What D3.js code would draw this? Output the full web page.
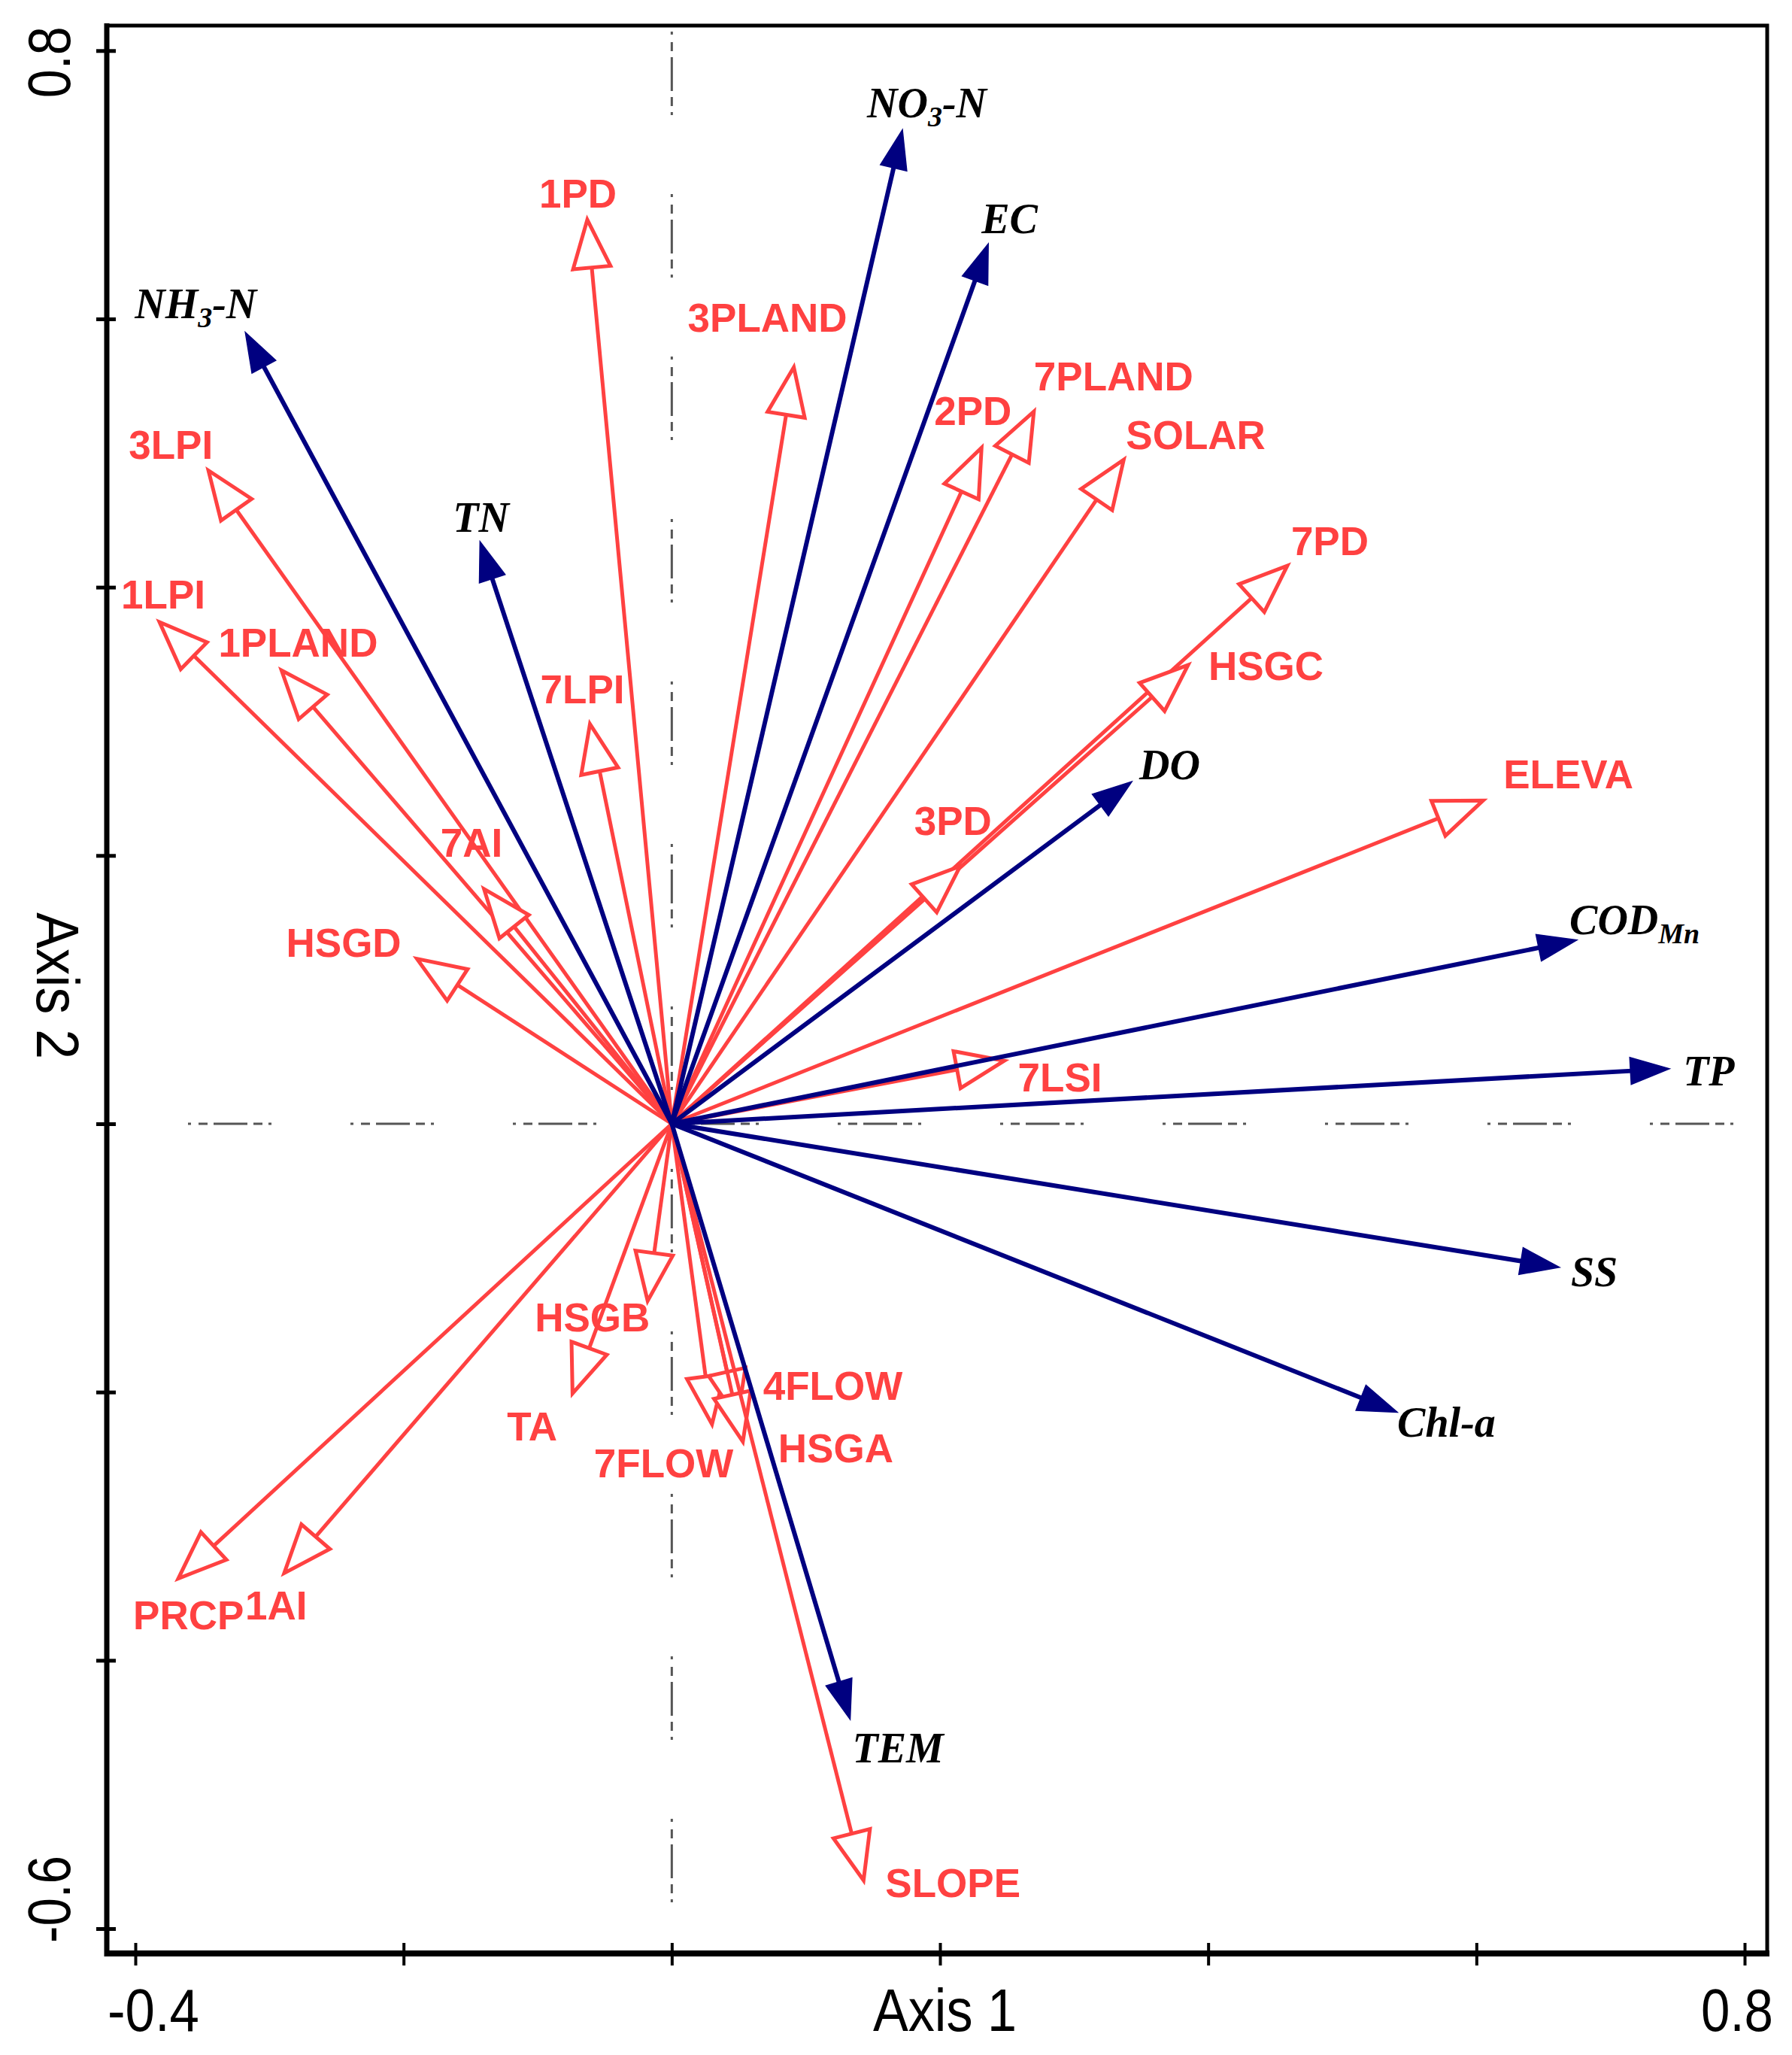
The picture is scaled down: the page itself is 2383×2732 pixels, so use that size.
<!DOCTYPE html>
<html>
<head>
<meta charset="utf-8">
<script src="https://cdn.jsdelivr.net/npm/d3@7"></script>
<style>
  html, body { margin: 0; padding: 0; background: #ffffff; }
  svg { display: block; }
</style>
</head>
<body>
<div id="chart"></div>
<script>
// ---------------- DATA ----------------
// Response variables (water quality) – filled navy arrows
const envNames = ["NH3-N", "TN", "NO3-N", "EC", "DO", "CODMn", "TP", "SS", "Chl-a", "TEM"];
const envAxis1 = [-0.318, -0.143, 0.172, 0.236, 0.343, 0.675, 0.744, 0.662, 0.541, 0.133];
const envAxis2 = [0.590, 0.434, 0.741, 0.656, 0.255, 0.137, 0.041, -0.107, -0.215, -0.444];

// Explanatory variables (landscape / climate) – open red arrows
const expNames = ["1PD", "3LPI", "1LPI", "1PLAND", "7LPI", "7AI", "HSGD", "3PLAND", "2PD", "7PLAND",
                  "SOLAR", "7PD", "HSGC", "3PD", "7LSI", "ELEVA", "HSGB", "TA", "7FLOW", "4FLOW",
                  "HSGA", "SLOPE", "PRCP", "1AI"];
const expAxis1 = [-0.063, -0.3455, -0.382, -0.291, -0.061, -0.140, -0.190, 0.091, 0.231, 0.270,
                  0.337, 0.459, 0.385, 0.215, 0.248, 0.605, -0.018, -0.074, 0.030, 0.049,
                  0.053, 0.143, -0.368, -0.289];
const expAxis2 = [0.674, 0.487, 0.374, 0.338, 0.298, 0.175, 0.123, 0.564, 0.504, 0.531,
                  0.495, 0.416, 0.342, 0.192, 0.047, 0.241, -0.132, -0.201, -0.224, -0.220,
                  -0.237, -0.564, -0.339, -0.335];

const xTicks = [-0.4, -0.2, 0, 0.2, 0.4, 0.6, 0.8];
const yTicks = [0.8, 0.6, 0.4, 0.2, 0, -0.2, -0.4, -0.6];
const xTickLabels = ["-0.4", "0.8"];
const yTickLabels = ["0.8", "-0.6"];
const xTitle = "Axis 1";
const yTitle = "Axis 2";

// ---------------- LAYOUT (pixel offsets of labels from arrow tips) ----------------
const envLabelOffset = {
  "NH3-N": [-147, -19], "TN": [-36, -13], "NO3-N": [-47, -17], "EC": [-9, -14], "DO": [10, -3],
  "CODMn": [-10, -8], "TP": [18, 22], "SS": [15, 25], "Chl-a": [0, 33], "TEM": [3, 57]
};
const expLabelOffset = {
  "1PD": [-64, -16], "3LPI": [-106, -15], "1LPI": [-51, -18], "1PLAND": [-84, -18], "7LPI": [-66, -28],
  "7AI": [-58, -43], "HSGD": [-174, -3], "3PLAND": [-141, -47], "2PD": [-63, -30], "7PLAND": [0, -28],
  "SOLAR": [3, -14], "7PD": [5, -14], "HSGC": [27, 20], "3PD": [-61, -42], "7LSI": [18, 41],
  "ELEVA": [27, -16], "HSGB": [-150, 41], "TA": [-87, 63], "7FLOW": [-157, 71], "4FLOW": [34, -25],
  "HSGA": [47, 27], "SLOPE": [29, 22], "PRCP": [-60, 67], "1AI": [-52, 62]
};

const W = 2383, H = 2732;
const box = { left: 142, right: 2350, top: 34, bottom: 2597 };
const RED = "#ff4141";
const NAVY = "#000080";

const x = d3.scaleLinear().domain([-0.4, 0.8]).range([180, 2320]);
const y = d3.scaleLinear().domain([-0.6, 0.8]).range([2564, 67.3]);

const svg = d3.select("#chart").append("svg")
  .attr("width", W).attr("height", H)
  .attr("viewBox", `0 0 ${W} ${H}`);

svg.append("rect").attr("width", W).attr("height", H).attr("fill", "#fff");

// ---------------- zero reference lines (dash-dot) ----------------
const dashPattern = "4,10,12,8,45,8,12,8,4,105";
svg.append("line")
  .attr("x1", 250).attr("x2", box.right - 4)
  .attr("y1", y(0)).attr("y2", y(0))
  .attr("stroke", "#555").attr("stroke-width", 3)
  .attr("stroke-dasharray", dashPattern);
svg.append("line")
  .attr("x1", x(0)).attr("x2", x(0))
  .attr("y1", box.top + 8).attr("y2", box.bottom - 4)
  .attr("stroke", "#555").attr("stroke-width", 3)
  .attr("stroke-dasharray", dashPattern);

// ---------------- frame & axes ----------------
svg.append("rect")
  .attr("x", box.left).attr("y", box.top)
  .attr("width", box.right - box.left).attr("height", box.bottom - box.top)
  .attr("fill", "none").attr("stroke", "#000").attr("stroke-width", 5);
svg.append("line").attr("x1", box.left).attr("x2", box.left)
  .attr("y1", box.top - 3).attr("y2", box.bottom + 4)
  .attr("stroke", "#000").attr("stroke-width", 7);
svg.append("line").attr("x1", box.left - 3).attr("x2", box.right + 3)
  .attr("y1", box.bottom).attr("y2", box.bottom)
  .attr("stroke", "#000").attr("stroke-width", 8);

const xAxis = d3.axisBottom(x).tickValues(xTicks).tickSize(30).tickFormat("");
const gx = svg.append("g").attr("transform", `translate(0,${box.bottom - 14})`).call(xAxis);
gx.select(".domain").remove();
gx.selectAll(".tick line").attr("stroke", "#000").attr("stroke-width", 4);

const yAxis = d3.axisLeft(y).tickValues(yTicks).tickSize(26).tickFormat("");
const gy = svg.append("g").attr("transform", `translate(${box.left + 12},0)`).call(yAxis);
gy.select(".domain").remove();
gy.selectAll(".tick line").attr("stroke", "#000").attr("stroke-width", 5);

// tick labels & titles
const axisFont = "'Liberation Sans', Arial, sans-serif";
svg.append("text").attr("x", 143).attr("y", 2700)
  .attr("font-family", axisFont).attr("font-size", 80)
  .attr("textLength", 122).attr("lengthAdjust", "spacingAndGlyphs")
  .text(xTickLabels[0]);
svg.append("text").attr("x", 2358).attr("y", 2700).attr("text-anchor", "end")
  .attr("font-family", axisFont).attr("font-size", 80)
  .attr("textLength", 96).attr("lengthAdjust", "spacingAndGlyphs")
  .text(xTickLabels[1]);
svg.append("text").attr("x", 1161).attr("y", 2700)
  .attr("font-family", axisFont).attr("font-size", 80)
  .attr("textLength", 191).attr("lengthAdjust", "spacingAndGlyphs")
  .text(xTitle);

svg.append("text").attr("transform", `translate(93,${y(0.8) + 63}) rotate(-90)`)
  .attr("font-family", axisFont).attr("font-size", 80)
  .attr("textLength", 95).attr("lengthAdjust", "spacingAndGlyphs")
  .text(yTickLabels[0]);
svg.append("text").attr("transform", `translate(93,${y(-0.6) + 19}) rotate(-90)`)
  .attr("font-family", axisFont).attr("font-size", 80)
  .attr("textLength", 116).attr("lengthAdjust", "spacingAndGlyphs")
  .text(yTickLabels[1]);
svg.append("text").attr("transform", `translate(49,1213) rotate(90)`)
  .attr("font-family", axisFont).attr("font-size", 80)
  .attr("textLength", 195).attr("lengthAdjust", "spacingAndGlyphs")
  .text(yTitle);

// ---------------- arrows ----------------
const ox = x(0), oy = y(0);

function headGeom(tx, ty, L, hw) {
  const dx = tx - ox, dy = ty - oy;
  const len = Math.hypot(dx, dy);
  const ux = dx / len, uy = dy / len;
  const bx = tx - ux * L, by = ty - uy * L;
  const nx = -uy, ny = ux;
  return {
    base: [bx, by],
    pts: [[tx, ty], [bx + nx * hw, by + ny * hw], [bx - nx * hw, by - ny * hw]]
  };
}

const expData = expNames.map((n, i) => ({ name: n, a1: expAxis1[i], a2: expAxis2[i] }));
const envData = envNames.map((n, i) => ({ name: n, a1: envAxis1[i], a2: envAxis2[i] }));

// red (explanatory) arrows
const gRed = svg.append("g");
expData.forEach(d => {
  const tx = x(d.a1), ty = y(d.a2);
  const h = headGeom(tx, ty, 64, 25);
  gRed.append("line")
    .attr("x1", ox).attr("y1", oy).attr("x2", h.base[0]).attr("y2", h.base[1])
    .attr("stroke", RED).attr("stroke-width", 5);
  gRed.append("polygon")
    .attr("points", h.pts.map(p => p.join(",")).join(" "))
    .attr("fill", "#fff").attr("stroke", RED).attr("stroke-width", 5)
    .attr("stroke-linejoin", "miter");
});

// navy (response) arrows
const gBlue = svg.append("g");
envData.forEach(d => {
  const tx = x(d.a1), ty = y(d.a2);
  const h = headGeom(tx, ty, 52, 18);
  gBlue.append("line")
    .attr("x1", ox).attr("y1", oy)
    .attr("x2", h.base[0] + (tx - h.base[0]) * 0.3).attr("y2", h.base[1] + (ty - h.base[1]) * 0.3)
    .attr("stroke", NAVY).attr("stroke-width", 6);
  gBlue.append("polygon")
    .attr("points", h.pts.map(p => p.join(",")).join(" "))
    .attr("fill", NAVY).attr("stroke", NAVY).attr("stroke-width", 1.5);
});

// ---------------- labels ----------------
const redFont = "'Liberation Sans', Arial, sans-serif";
expData.forEach(d => {
  const off = expLabelOffset[d.name];
  svg.append("text")
    .attr("x", x(d.a1) + off[0]).attr("y", y(d.a2) + off[1])
    .attr("font-family", redFont).attr("font-weight", "bold").attr("font-size", 53)
    .attr("fill", RED)
    .text(d.name);
});

const blackFont = "'Liberation Serif', 'Times New Roman', serif";
const subscripted = { "NH3-N": ["NH", "3", "-N"], "NO3-N": ["NO", "3", "-N"], "CODMn": ["COD", "Mn", ""] };
envData.forEach(d => {
  const off = envLabelOffset[d.name];
  const t = svg.append("text")
    .attr("x", x(d.a1) + off[0]).attr("y", y(d.a2) + off[1])
    .attr("font-family", blackFont).attr("font-weight", "bold").attr("font-style", "italic")
    .attr("font-size", 56).attr("fill", "#000");
  const parts = subscripted[d.name];
  if (parts) {
    t.append("tspan").text(parts[0]);
    t.append("tspan").attr("font-size", 38).attr("dy", 12).text(parts[1]);
    if (parts[2]) t.append("tspan").attr("dy", -12).text(parts[2]);
  } else {
    t.text(d.name);
  }
});
</script>
</body>
</html>
